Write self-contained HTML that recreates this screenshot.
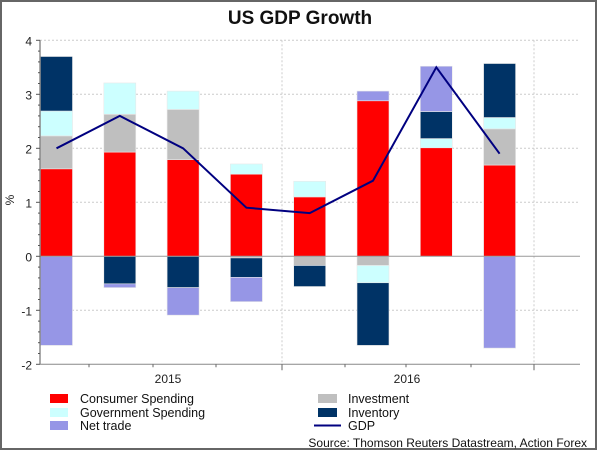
<!DOCTYPE html>
<html><head><meta charset="utf-8"><style>
body{margin:0;background:#fff;}
svg{display:block;font-family:"Liberation Sans",Arial,sans-serif;}
</style></head><body>
<svg id="chart" width="600" height="451" viewBox="0 0 600 451">
<rect x="1" y="1" width="595" height="448" fill="#fff" stroke="#666" stroke-width="2"/>
<text x="300" y="24" text-anchor="middle" font-size="19" font-weight="bold" fill="#111">US GDP Growth</text>
<g id="grid"></g>
<g id="bars"></g>
<g id="axes"></g>
<g id="line"></g>
<text transform="translate(14,200) rotate(-90)" text-anchor="middle" font-size="12" fill="#222">%</text>
<g font-size="12.5" fill="#111">
<rect x="50" y="394" width="18" height="9" fill="#ff0000"/>
<text x="80" y="403">Consumer Spending</text>
<rect x="50" y="408" width="18" height="9" fill="#ccffff"/>
<text x="80" y="417">Government Spending</text>
<rect x="50" y="421" width="18" height="9" fill="#9696e6"/>
<text x="80" y="430">Net trade</text>
<rect x="318" y="394" width="19" height="9" fill="#bfbfbf"/>
<text x="348" y="403">Investment</text>
<rect x="318" y="408" width="19" height="9" fill="#003366"/>
<text x="348" y="417">Inventory</text>
<line x1="314" y1="425.5" x2="341" y2="425.5" stroke="#000080" stroke-width="2"/>
<text x="348" y="430">GDP</text>
</g>
<text x="587" y="447" text-anchor="end" font-size="12" fill="#111">Source: Thomson Reuters Datastream, Action Forex</text>
</svg>
<script>
const categories=["Q1 2015","Q2 2015","Q3 2015","Q4 2015","Q1 2016","Q2 2016","Q3 2016","Q4 2016"];
const consumer=[1.62,1.93,1.79,1.52,1.10,2.88,2.01,1.69];
const investment=[0.61,0.70,0.93,-0.03,-0.17,-0.17,0,0.67];
const government=[0.46,0.58,0.34,0.19,0.29,-0.32,0.17,0.21];
const inventory=[1.01,-0.51,-0.58,-0.36,-0.39,-1.16,0.50,1.00];
const netTrade=[-1.65,-0.07,-0.51,-0.45,0,0.18,0.84,-1.70];
const gdp=[2.0,2.6,2.0,0.9,0.8,1.4,3.5,1.9];
const yTicks=[-2,-1,0,1,2,3,4];
const xLabels=["2015","2016"];

const NS="http://www.w3.org/2000/svg";
const L=40,R=580,T=40.3,B=364.3,yMin=-2,yMax=4;
function y(v){return B-(v-yMin)/(yMax-yMin)*(B-T);}
const step=63.3;
function xc(i){return 56.5+i*step;}
const bw=32;
function mk(tag,attrs,parent){const e=document.createElementNS(NS,tag);for(const k in attrs)e.setAttribute(k,attrs[k]);parent.appendChild(e);return e;}
const grid=document.getElementById('grid'),bars=document.getElementById('bars'),axes=document.getElementById('axes'),lineG=document.getElementById('line');
yTicks.forEach(t=>{
  if(t!==0&&t!==yMin){const g=mk('line',{x1:L,x2:R,y1:y(t),y2:y(t),stroke:'#ccc','stroke-dasharray':'2,2'},grid);
  
  }
  const tx=mk('text',{x:32,y:y(t)+5,'text-anchor':'end','font-size':'12',fill:'#222'},axes);tx.textContent=t;
  
  
});
[282,534].forEach(xv=>{const g=mk('line',{x1:xv,x2:xv,y1:T,y2:B,stroke:'#ccc','stroke-dasharray':'2,2'},grid);

});
for(let v=yMin;v<=yMax+0.001;v+=0.2){const big=Math.abs(v-Math.round(v))<0.01;mk('line',{x1:big?36:38,x2:L,y1:y(v),y2:y(v),stroke:'#555'},axes);}
const series=[[consumer,'#ff0000','consumer'],[investment,'#bfbfbf','investment'],[government,'#ccffff','government'],[inventory,'#003366','inventory'],[netTrade,'#9696e6','net-trade']];
categories.forEach((c,i)=>{
  let pos=0,neg=0;
  series.forEach(([arr,col,nm])=>{
    const v=arr[i];if(!v)return;
    let a,b;if(v>0){a=pos;b=pos+v;pos=b;}else{a=neg;b=neg+v;neg=b;}
    const r=mk('rect',{x:xc(i)-bw/2,width:bw,y:Math.min(y(a),y(b)),height:Math.abs(y(a)-y(b)),fill:col,stroke:'#e8e8e8','stroke-width':'0.6'},bars);
    
    
  });
});
const z=mk('line',{x1:L,x2:R,y1:y(0),y2:y(0),stroke:'#999'},axes);


const ya=mk('line',{x1:L,x2:L,y1:T,y2:B,stroke:'#555'},axes);


const xa=mk('line',{x1:L,x2:R,y1:B,y2:B,stroke:'#888'},axes);


[89,153,216,345,406,471].forEach(xv=>mk('line',{x1:xv,x2:xv,y1:B,y2:B+3,stroke:'#666'},axes));
[282,534].forEach(xv=>mk('line',{x1:xv,x2:xv,y1:B,y2:B+6,stroke:'#666'},axes));
xLabels.forEach((lb,k)=>{const t=mk('text',{x:k===0?168:407,y:383,'text-anchor':'middle','font-size':'12',fill:'#222'},axes);t.textContent=lb;

});
const pts=gdp.map((v,i)=>xc(i)+','+y(v)).join(' ');
const pl=mk('polyline',{points:pts,fill:'none',stroke:'#000080','stroke-width':'2'},lineG);


</script>
</body></html>
